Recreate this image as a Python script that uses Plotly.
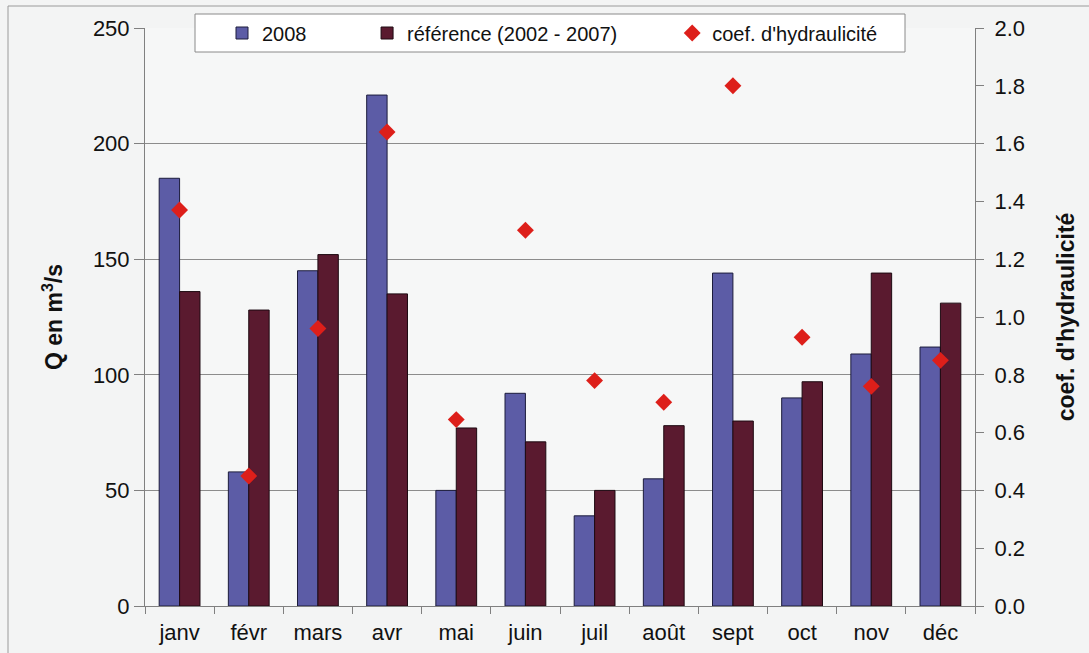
import plotly.graph_objects as go

# monthly discharge (m3/s) and hydraulicity coefficient
months = ["janv", "févr", "mars", "avr", "mai", "juin",
          "juil", "août", "sept", "oct", "nov", "déc"]
q_2008 = [185, 58, 145, 221, 50, 92, 39, 55, 144, 90, 109, 112]
q_ref = [136, 128, 152, 135, 77, 71, 50, 78, 80, 97, 144, 131]
coef = [1.37, 0.45, 0.96, 1.64, 0.645, 1.30, 0.78, 0.705, 1.80, 0.93, 0.76, 0.85]

NB = "\u00a0"
FONT = "Liberation Sans, Arial, sans-serif"

# plot area in pixels (used to place the legend box / frame)
L, R, T, B = 145, 975, 28, 606


def px(x):
    return (x - L) / (R - L)


def py(y):
    return (B - y) / (B - T)


fig = go.Figure()

fig.add_trace(go.Bar(
    x=months, y=q_2008, name="2008" + NB * 10,
    marker=dict(color="#5c5ca6", line=dict(color="#1c1c3c", width=1)),
))
fig.add_trace(go.Bar(
    x=months, y=q_ref, name="référence (2002 - 2007)" + NB * 9,
    marker=dict(color="#5a1a2f", line=dict(color="#1e0a12", width=1)),
))
fig.add_trace(go.Scatter(
    x=months, y=coef, name="coef. d'hydraulicité", yaxis="y2",
    mode="markers",
    marker=dict(symbol="diamond", size=13, color="#dd1f1a"),
))

# outer frame of the chart
fig.add_shape(type="rect", xref="paper", yref="paper",
              x0=px(8), x1=px(1100), y0=py(665), y1=py(6),
              line=dict(color="#9a9a9a", width=1), layer="below")
# legend box
fig.add_shape(type="rect", xref="paper", yref="paper",
              x0=px(195), x1=px(905), y0=py(52), y1=py(14),
              fillcolor="#ffffff", line=dict(color="#8a8a8a", width=1),
              layer="above")

fig.update_layout(
    width=1089, height=653,
    margin=dict(l=L, r=1089 - R, t=T, b=653 - B, autoexpand=False),
    paper_bgcolor="#f3f4f4",
    plot_bgcolor="#f6f7f7",
    font=dict(family=FONT, size=20, color="#111111"),
    barmode="group", bargap=0.41, bargroupgap=0,
    showlegend=True,
    legend=dict(
        orientation="h", x=px(222), y=py(33), xanchor="left", yanchor="middle",
        bgcolor="rgba(0,0,0,0)", borderwidth=0,
        font=dict(size=20), itemwidth=30,
    ),
    xaxis=dict(
        range=[-0.5, len(months) - 0.5],
        showline=True, linecolor="#808080", linewidth=1,
        ticks="outside", tickson="boundaries", ticklen=7, tickcolor="#808080",
        tickfont=dict(size=22), ticklabelstandoff=7, automargin=False,
    ),
    yaxis=dict(
        range=[0, 250], dtick=50, tickmode="linear",
        showgrid=True, gridcolor="#8c8c8c", gridwidth=1,
        showline=True, linecolor="#808080", linewidth=1,
        ticks="outside", ticklen=10, tickcolor="#808080",
        tickfont=dict(size=22), zeroline=False, automargin=False,
        title=dict(text="<b>Q en m<sup>3</sup>/s</b>", font=dict(size=23), standoff=23),
    ),
    yaxis2=dict(
        range=[0, 2.0], dtick=0.2, tickmode="linear", tickformat=".1f",
        overlaying="y", side="right", showgrid=False, zeroline=False,
        showline=True, linecolor="#808080", linewidth=1,
        ticks="outside", ticklen=8, tickcolor="#808080",
        tickfont=dict(size=22), ticklabelstandoff=6, automargin=False,
        title=dict(text="<b>coef. d'hydraulicité</b>", font=dict(size=23), standoff=33),
    ),
)

# drop the default page margin so the figure sits at the window's top-left
fig.write_html("out.html", config={"displayModeBar": False},
               post_script="document.body.style.margin = '0';")
